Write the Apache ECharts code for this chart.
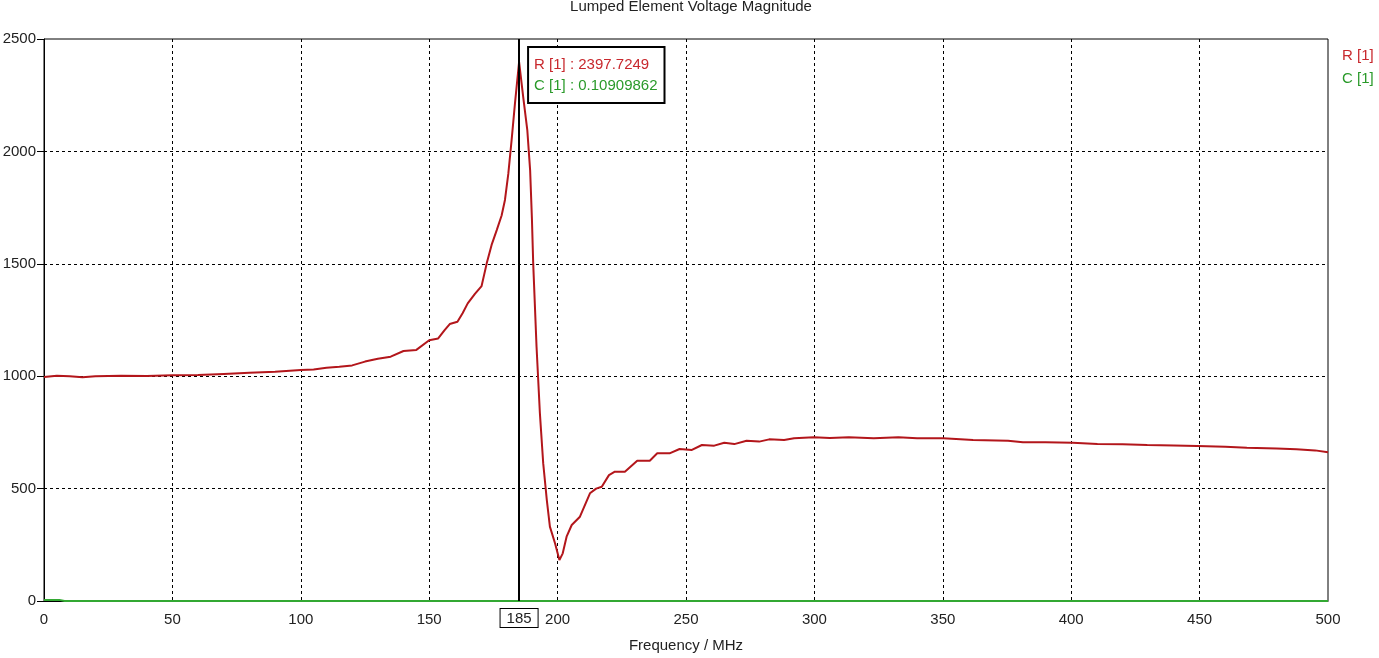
<!DOCTYPE html>
<html>
<head>
<meta charset="utf-8">
<script src="https://cdn.jsdelivr.net/npm/echarts@6/dist/echarts.min.js"></script>
<style>html,body{margin:0;padding:0;background:#fff;}#c{width:1379px;height:658px;}</style>
</head>
<body>
<div id="c"></div>
<script>
const titleText = 'Lumped Element Voltage Magnitude';
const xName = 'Frequency / MHz';
const seriesNames = ['R [1]', 'C [1]'];
const markerFreq = 185;
const markerR = 2397.7249;
const markerC = 0.10909862;

const freqR = [0,5,10,15,20,30,40,50,60,70,80,90,100,105,110,115,120,125,130,135,140,145,150,153.5,156,158,161,163,165,167.8,170.4,172.4,174.3,176.3,178.2,179.5,180.8,182.1,183.4,185,186.6,188.2,189.3,190,190.5,191.8,193.1,194.4,195.8,197,199,200.7,202,203.5,205.5,208.7,212.6,215,217.2,220,222.3,226.2,231,235.9,238.8,243.6,247.5,252.3,256.2,261,264.9,268.8,273.6,278.5,282.4,288.2,292.1,299.8,306,313.4,323.1,332.7,340,350.2,361.8,375.4,381.2,390,400.6,410.2,420,429.6,440,449,460,468.4,480,487.7,495,500];
const valR = [996,1002,1000,995,1000,1002,1001,1004,1005,1010,1015,1020,1028,1030,1038,1042,1048,1065,1078,1087,1112,1117,1160,1168,1205,1232,1242,1280,1324,1366,1401,1502,1584,1650,1715,1784,1900,2051,2214,2397.7249,2243,2095,1917,1700,1502,1131,836,612,449,331,257,182,212,286,338,375,479,500,508,560,575,575,624,624,657,657,676,672,694,691,704,698,713,709,719,716,724,728,725,728,724,728,724,724,716,713,706,706,704,698,697,694,692,690,686,682,678,675,670,662];

const freqC = [0,6,8,50,100,150,200,250,300,350,400,450,500];
const valC = [5,5,0.11,0.11,0.11,0.11,0.11,0.11,0.11,0.11,0.11,0.11,0.11];

const xTicks = {min:0, max:500, interval:50};
const yTicks = {min:0, max:2500, interval:500};

const F = 'Liberation Sans';
const dataR = freqR.map((f,i)=>[f,valR[i]]);
const dataC = freqC.map((f,i)=>[f,valC[i]]);

const chart = echarts.init(document.getElementById('c'));
chart.setOption({
  animation:false,
  backgroundColor:'#fff',
  title:{text:titleText, left:686, textAlign:'center', top:-6,
    textStyle:{fontFamily:F, fontSize:15, fontWeight:'normal', color:'#222'}},
  legend:{orient:'vertical', left:1332, top:43, itemWidth:0, itemHeight:14, itemGap:8,
    icon:'rect', selectedMode:false,
    textStyle:{fontFamily:F, fontSize:15},
    data:[{name:seriesNames[0], textStyle:{color:'#c8282d'}},{name:seriesNames[1], textStyle:{color:'#2a9a2a'}}]},
  grid:{left:44, right:51, top:39, bottom:57, show:true, borderColor:'#000', borderWidth:1, backgroundColor:'#fff',
    containLabel:false, outerBoundsMode:'none'},
  xAxis:{type:'value', min:xTicks.min, max:xTicks.max, interval:xTicks.interval,
    name:xName, nameLocation:'middle', nameGap:37,
    nameTextStyle:{fontFamily:F, fontSize:15, color:'#222'},
    axisLine:{show:true, lineStyle:{color:'#000', width:1}},
    axisTick:{show:false},
    axisLabel:{fontFamily:F, fontSize:15, color:'#222', margin:11, showMaxLabel:true, formatter:v=>String(v)},
    splitLine:{show:true, showMinLine:false, showMaxLine:false, lineStyle:{color:'#000', width:1, type:[3,3]}}},
  yAxis:{type:'value', min:yTicks.min, max:yTicks.max, interval:yTicks.interval,
    axisLine:{show:true, lineStyle:{color:'#000', width:1}},
    axisTick:{show:true, length:7, lineStyle:{color:'#000'}},
    axisLabel:{fontFamily:F, fontSize:15, color:'#222', margin:8, formatter:v=>String(v)},
    splitLine:{show:true, showMinLine:false, showMaxLine:false, lineStyle:{color:'#000', width:1, type:[3,3]}}},
  series:[
    {name:seriesNames[0], type:'line', data:dataR, showSymbol:false, symbol:'none',
      lineStyle:{color:'#b3161b', width:2}, itemStyle:{color:'#b3161b'}, z:3,
      markLine:{silent:true, symbol:'none', animation:false,
        lineStyle:{color:'#000', width:2, type:'solid'},
        label:{show:true, position:'start', distance:8, formatter:String(markerFreq),
          fontFamily:F, fontSize:15, color:'#222', backgroundColor:'#fff',
          borderColor:'#000', borderWidth:1, padding:[2,6,1,6]},
        data:[{xAxis:markerFreq}]},
      markPoint:{silent:true, symbol:'circle', symbolSize:0, animation:false,
        label:{show:true, position:'right', distance:10, offset:[0,13],
          backgroundColor:'#fff', borderColor:'#000', borderWidth:2, padding:[6,6,6,5],
          lineHeight:21, align:'left',
          formatter:'{r|R [1] : '+markerR+'}\n{g|C [1] : '+markerC+'}',
          rich:{r:{color:'#c8282d', fontFamily:F, fontSize:15, lineHeight:21},
                g:{color:'#2a9a2a', fontFamily:F, fontSize:15, lineHeight:21}}},
        data:[{coord:[markerFreq, markerR]}]}},
    {name:seriesNames[1], type:'line', data:dataC, showSymbol:false, symbol:'none',
      lineStyle:{color:'#33a833', width:2}, itemStyle:{color:'#33a833'}, z:4}
  ]
});
</script>
</body>
</html>
